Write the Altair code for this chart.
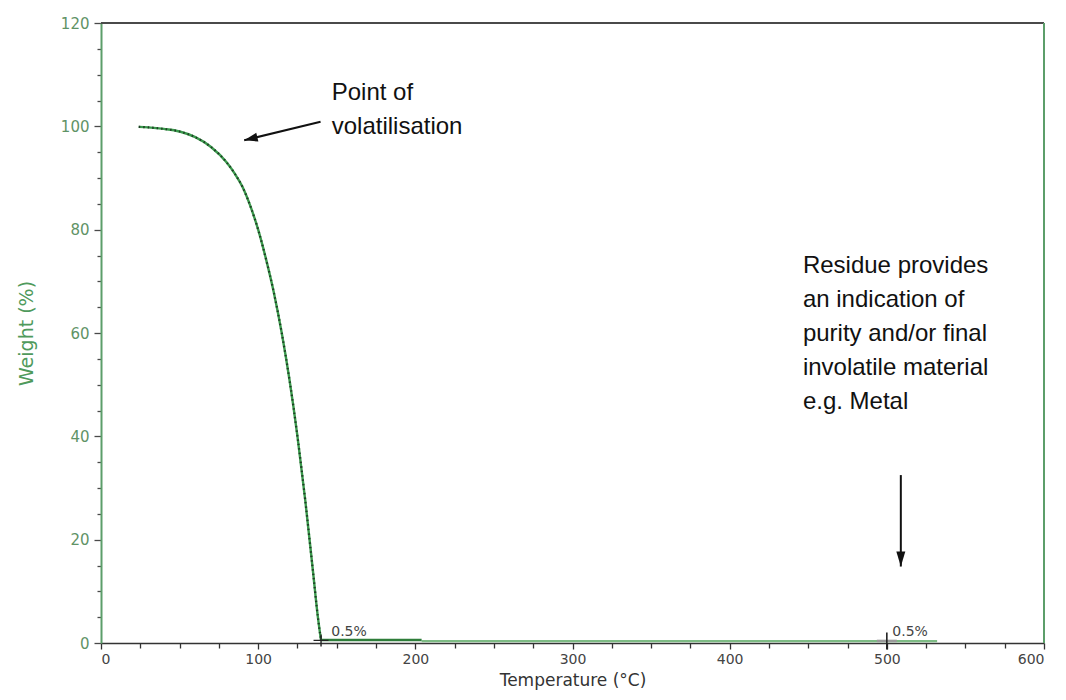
import altair as alt
import pandas as pd

# --- data ---
temp = [24, 30, 40, 50, 60, 70, 80, 85, 90, 95, 100, 105, 110, 115, 120, 125, 130, 135, 138, 140]
weight = [99.9, 99.8, 99.5, 99.0, 97.9, 96.0, 93.0, 90.9, 88.3, 84.6, 80.0, 74.3, 67.8, 60.0, 50.8, 40.0, 27.5, 13.5, 5.0, 0.5]

res_dark_t = [140, 204]
res_dark_w = [0.6, 0.6]
res_light_t = [204, 532]
res_light_w = [0.35, 0.35]

marker_t = [140, 500]
marker_w = [0.5, 0.4]
marker_labels = ["0.5%", "0.5%"]
marker_label_t = [146.5, 503.5]
marker_label_w = [2.2, 2.2]

note1 = "Point of\nvolatilisation"
note1_t, note1_w = 146.8, 105.1
note2 = "Residue provides\nan indication of\npurity and/or final\ninvolatile material\ne.g. Metal"
note2_t, note2_w = 446.6, 71.6

arrow1 = dict(t=139.7, w=100.9, t2=91.1, w2=97.3)
arrow2 = dict(t=508.9, w=32.5, t2=508.9, w2=14.8)

x_ticks = list(range(0, 601, 25))
y_ticks = list(range(0, 121, 5))

curve = pd.DataFrame({"t": temp, "w": weight})
res_dark = pd.DataFrame({"t": res_dark_t, "w": res_dark_w})
res_light = pd.DataFrame({"t": res_light_t, "w": res_light_w})
markers = pd.DataFrame({"t": marker_t, "w": marker_w})
mlabels = pd.DataFrame({"t": marker_label_t, "w": marker_label_w, "label": marker_labels})
notes = pd.DataFrame({"t": [note1_t, note2_t], "w": [note1_w, note2_w], "label": [note1, note2]})
arrows = pd.DataFrame([arrow1, arrow2])
heads1 = pd.DataFrame({"t": [arrow1["t2"]], "w": [arrow1["w2"]]})
heads2 = pd.DataFrame({"t": [arrow2["t2"]], "w": [arrow2["w2"]]})
borders = pd.DataFrame({"t": [0, 600], "t2": [600, 600], "w": [120, 0], "w2": [120, 120],
                        "c": ["#4a4a4a", "#5c9e6a"]})

AXFONT = "DejaVu Sans"

X = alt.X("t:Q", scale=alt.Scale(domain=[0, 600], nice=False, zero=False),
          axis=alt.Axis(values=x_ticks, grid=False,
                        labelExpr="datum.value % 100 === 0 ? datum.label : ''",
                        title="Temperature (°C)", titleFont=AXFONT, titleFontSize=17,
                        titleFontWeight="normal", titleColor="#333333",
                        titleY=46, titleBaseline="bottom",
                        labelFont=AXFONT, labelFontSize=14, labelColor="#444444",
                        labelPadding=3, labelOverlap=False,
                        domainColor="#333333", domainWidth=1.5,
                        tickColor="#333333", tickWidth=1.3,
                        tickSize={"condition": {"test": "datum.value % 100 === 0", "value": 6}, "value": 5}))
Y = alt.Y("w:Q", scale=alt.Scale(domain=[0, 120], nice=False, zero=False),
          axis=alt.Axis(values=y_ticks, grid=False,
                        labelExpr="datum.value % 20 === 0 ? datum.label : ''",
                        title="Weight (%)", titleFont=AXFONT, titleFontSize=19,
                        titleFontWeight="normal", titleColor="#4f9a5c", titlePadding=24,
                        labelFont=AXFONT, labelFontSize=15, labelColor="#5f9366",
                        labelPadding=5, labelOverlap=False,
                        domainColor="#5c9e6a", domainWidth=2,
                        tickColor="#4a4a4a", tickWidth=1.3,
                        tickSize={"condition": {"test": "datum.value % 20 === 0", "value": 7}, "value": 4}))

border_layer = alt.Chart(borders).mark_rule(strokeWidth=2).encode(
    x=X, x2="t2:Q", y=Y, y2="w2:Q", color=alt.Color("c:N", scale=None))

curve_base = alt.Chart(curve).mark_line(color="#3a9a4c", strokeWidth=2.4, interpolate="monotone").encode(x=X, y=Y)
curve_dots = alt.Chart(curve).mark_line(color="#1c3320", strokeWidth=2.2, strokeDash=[1.5, 3],
                                        interpolate="monotone", opacity=0.9).encode(x=X, y=Y)

dark_layer = alt.Chart(res_dark).mark_line(color="#2e7d3a", strokeWidth=2.5).encode(x=X, y=Y)
light_layer = alt.Chart(res_light).mark_line(color="#7dbb84", strokeWidth=2.2).encode(x=X, y=Y)

cross1 = alt.Chart(markers.iloc[[0]]).mark_point(
    shape="M-1,0L1,0M0,-0.8L0,0.8", size=225, filled=False, stroke="#222222", strokeWidth=1.4, opacity=1
).encode(x=X, y=Y)
hbar2 = alt.Chart(markers.iloc[[1]]).mark_point(
    shape="M-1,0L1,0", size=400, filled=False, stroke="#9a9a9a", strokeWidth=2.5, opacity=1
).encode(x=X, y=Y)
vbar2 = alt.Chart(markers.iloc[[1]]).mark_point(
    shape="M0,-1L0,1", size=289, filled=False, stroke="#222222", strokeWidth=1.6, opacity=1
).encode(x=X, y=Y)

mlabel_layer = alt.Chart(mlabels).mark_text(
    font=AXFONT, fontSize=14, color="#444444", align="left", baseline="middle"
).encode(x=X, y=Y, text="label:N")

note_layer = alt.Chart(notes).mark_text(
    font="Liberation Sans", fontSize=24, color="#111111", align="left", baseline="alphabetic",
    lineBreak="\n", lineHeight=34
).encode(x=X, y=Y, text="label:N")

arrow_lines = alt.Chart(arrows).mark_rule(color="#111111", strokeWidth=2).encode(
    x=X, y=Y, x2="t2:Q", y2="w2:Q")
head1 = alt.Chart(heads1).mark_point(
    shape="M0,0L-0.5,1.5L0.5,1.5Z", size=324, filled=True, color="#111111", opacity=1, angle=256.6
).encode(x=X, y=Y)
head2 = alt.Chart(heads2).mark_point(
    shape="M0,0L-0.45,1.5L0.45,1.5Z", size=400, filled=True, color="#111111", opacity=1, angle=180
).encode(x=X, y=Y)

chart = alt.layer(
    border_layer, light_layer, dark_layer, curve_base, curve_dots,
    hbar2, vbar2, cross1, mlabel_layer, note_layer, arrow_lines, head1, head2
).properties(
    width=943, height=620,
    autosize=alt.AutoSizeParams(type="none"),
    padding={"left": 93, "top": 15, "right": 14, "bottom": 48},
    background="white",
).configure_view(stroke=None)

chart.save("out.html", embed_options={"renderer": "svg", "actions": False})
